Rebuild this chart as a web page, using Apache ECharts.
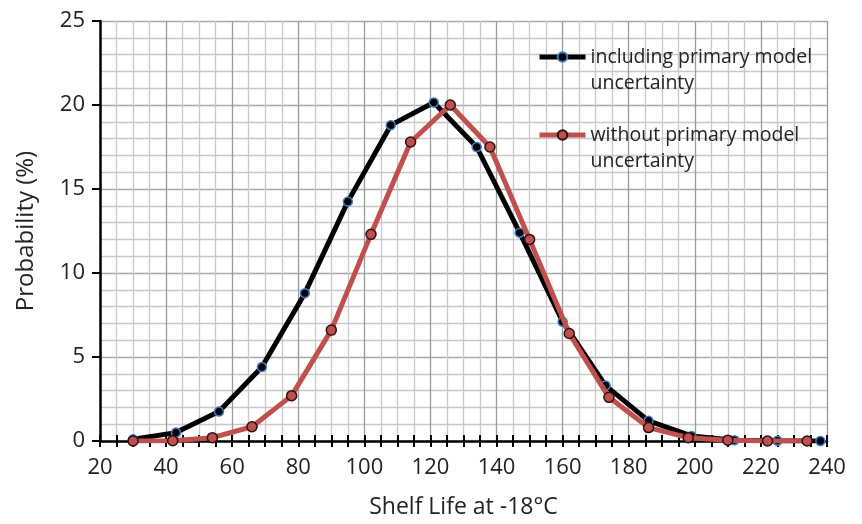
<!DOCTYPE html>
<html>
<head>
<meta charset="utf-8">
<script src="https://cdn.jsdelivr.net/npm/echarts@6/dist/echarts.min.js"></script>
<style>html,body{margin:0;padding:0;background:#fff}#c{width:862px;height:524px}</style>
</head>
<body>
<div id="c"></div>
<script>
var seriesNames = ['including primary model uncertainty', 'without primary model uncertainty'];
var legendLines = [['including primary model', 'uncertainty'], ['without primary model', 'uncertainty']];
var xIncluding = [30, 43, 56, 69, 82, 95, 108, 121, 134, 147, 160, 173, 186, 199, 212, 225, 238];
var yIncluding = [0.1, 0.5, 1.75, 4.4, 8.8, 14.25, 18.8, 20.15, 17.5, 12.4, 7.1, 3.3, 1.2, 0.3, 0.05, 0.02, 0.0];
var xWithout = [30, 42, 54, 66, 78, 90, 102, 114, 126, 138, 150, 162, 174, 186, 198, 210, 222, 234];
var yWithout = [0.0, 0.02, 0.2, 0.85, 2.7, 6.6, 12.3, 17.8, 20.0, 17.5, 12.0, 6.4, 2.6, 0.8, 0.2, 0.05, 0.0, 0.0];
var xTicks = [20, 40, 60, 80, 100, 120, 140, 160, 180, 200, 220, 240];
var yTicks = [0, 5, 10, 15, 20, 25];

function pairs(xs, ys) { return xs.map(function (x, i) { return [x, ys[i]]; }); }

var FONT = '"Open Sans", "DejaVu Sans", sans-serif';
var chart = echarts.init(document.getElementById('c'), null, { renderer: 'canvas' });
chart.setOption({
  animation: false,
  backgroundColor: '#fff',
  grid: { left: 100, right: 35, top: 21, bottom: 82, containLabel: false },
  legend: {
    orient: 'vertical',
    left: 537, top: 18, padding: 0,
    itemWidth: 46, itemHeight: 12, itemGap: 0,
    data: seriesNames,
    lineStyle: { width: 5 },
    formatter: function (n) {
      var l = legendLines[seriesNames.indexOf(n)];
      return '\u00a0\n' + l[0] + '\n' + l[1];
    },
    textStyle: { fontFamily: FONT, fontSize: 19.5, color: '#222', lineHeight: 26 }
  },
  xAxis: [{
    type: 'value', min: xTicks[0], max: xTicks[xTicks.length - 1], interval: 20,
    name: 'Shelf Life at -18°C', nameLocation: 'middle', nameGap: 55,
    nameTextStyle: { fontFamily: FONT, fontSize: 23, color: '#222' },
    axisLine: { show: true, onZero: false, lineStyle: { color: '#000', width: 2.5 } },
    axisTick: { show: true, inside: false, length: 6, lineStyle: { color: '#000', width: 2 } },
    minorTick: { show: true, splitNumber: 4, length: 6, lineStyle: { color: '#000', width: 2 } },
    axisLabel: { fontFamily: FONT, fontSize: 22, color: '#222', margin: 16 },
    splitLine: { show: true, lineStyle: { color: '#9a9a9a', width: 1.3 } },
    minorSplitLine: { show: true, lineStyle: { color: '#c8c8c8', width: 1.3 } }
  }, {
    type: 'value', position: 'bottom', min: xTicks[0], max: xTicks[xTicks.length - 1], interval: 20,
    axisLine: { show: false },
    axisTick: { show: true, inside: true, length: 6, lineStyle: { color: '#000', width: 2 } },
    minorTick: { show: true, splitNumber: 4, length: 6, lineStyle: { color: '#000', width: 2 } },
    axisLabel: { show: false },
    splitLine: { show: false }
  }],
  yAxis: {
    type: 'value', min: yTicks[0], max: yTicks[yTicks.length - 1], interval: 5,
    name: 'Probability (%)', nameLocation: 'middle', nameGap: 62, nameRotate: 90,
    nameTextStyle: { fontFamily: FONT, fontSize: 24, color: '#222' },
    axisLine: { show: true, lineStyle: { color: '#000', width: 2.5 } },
    axisTick: { show: true, inside: false, length: 8, lineStyle: { color: '#000', width: 2 } },
    axisLabel: { fontFamily: FONT, fontSize: 22, color: '#222', margin: 15 },
    splitLine: { show: true, lineStyle: { color: '#a8a8a8', width: 1.3 } },
    minorTick: { show: false, splitNumber: 5 },
    minorSplitLine: { show: true, lineStyle: { color: '#c8c8c8', width: 1.3 } }
  },
  series: [{
    name: seriesNames[0], type: 'line', xAxisIndex: 0,
    data: pairs(xIncluding, yIncluding),
    symbol: 'circle', symbolSize: 9,
    lineStyle: { color: '#000', width: 5 },
    itemStyle: { color: '#000', borderColor: '#3d7cc9', borderWidth: 1.5 },
    z: 3
  }, {
    name: seriesNames[1], type: 'line', xAxisIndex: 0,
    data: pairs(xWithout, yWithout),
    symbol: 'circle', symbolSize: 10,
    lineStyle: { color: '#c0504d', width: 5 },
    itemStyle: { color: '#c0504d', borderColor: '#2a1010', borderWidth: 1.5 },
    z: 4
  }]
});
</script>
</body>
</html>
